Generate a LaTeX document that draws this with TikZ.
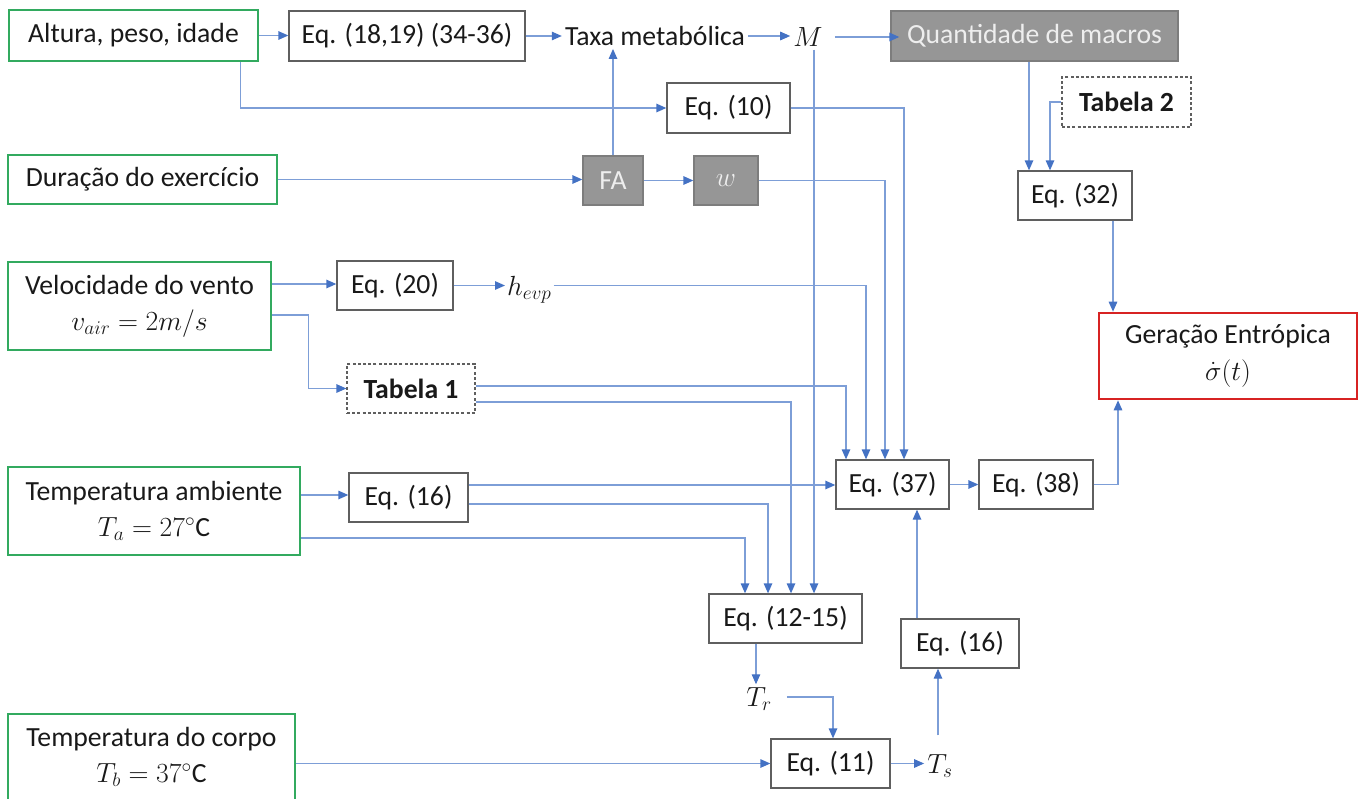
\RequirePackage{fix-cm}
\documentclass[tikz,border=0pt]{standalone}
\usepackage{fontspec}
\setmainfont{Carlito}
\usetikzlibrary{arrows.meta,calc}
\definecolor{lineblue}{RGB}{125,158,215}
\definecolor{tipblue}{RGB}{68,114,196}
\definecolor{boxgreen}{RGB}{50,170,95}
\definecolor{boxgray}{RGB}{150,150,150}
\definecolor{grayedge}{RGB}{125,125,125}
\definecolor{graytext}{RGB}{238,238,238}
\definecolor{boxred}{RGB}{215,35,35}
\definecolor{edgegray}{RGB}{95,95,95}
\tikzset{
  txt/.style={font=\fontsize{27.7}{36}\selectfont, text=black!90, align=center},
  inbox/.style={txt, draw=boxgreen, line width=2.8pt, inner sep=0pt},
  eqbox/.style={txt, draw=edgegray, line width=1.3pt, inner sep=0pt},
  graybox/.style={txt, fill=boxgray, draw=grayedge, line width=1.3pt, inner sep=0pt, text=graytext},
  tabbox/.style={txt, draw=edgegray, line width=1.2pt, dash pattern=on 3pt off 2.2pt, inner sep=0pt, font=\fontsize{27.7}{36}\selectfont\bfseries},
  outbox/.style={txt, draw=boxred, line width=2.6pt, inner sep=0pt},
  lbl/.style={txt, inner sep=3pt},
  conn/.style={draw=lineblue, line width=1.3pt, -{Triangle[length=10pt,width=8.5pt,color=tipblue]}},
}
\begin{document}
\begin{tikzpicture}[x=1pt,y=-1pt]
\useasboundingbox (0,0) rectangle (1363,798);
% inputs
\node[inbox, minimum width=249pt, minimum height=51pt] (alt) at (133.5,35.5) {Altura, peso, idade};
\node[inbox, minimum width=269pt, minimum height=49pt] (dur) at (142.5,179.5) {Duração do exercício};
\node[inbox, minimum width=263pt, minimum height=88pt] (vel) at (139.5,306) {Velocidade do vento\\$v_{air} \mathrel{=} 2m/s$};
\node[inbox, minimum width=292pt, minimum height=88pt] (tamb) at (154,511) {Temperatura ambiente\\$T_a = 27^{\circ}\mathrm{C}$};
\node[inbox, minimum width=287pt, minimum height=86pt] (tcorp) at (151.5,757) {Temperatura do corpo\\$T_b = 37^{\circ}\mathrm{C}$};
% equations
\node[eqbox, minimum width=236pt, minimum height=50pt] (eqA) at (407,36) {Eq. (18,19) (34-36)};
\node[eqbox, minimum width=123pt, minimum height=50pt] (eq10) at (728.5,108) {Eq. (10)};
\node[eqbox, minimum width=114pt, minimum height=49pt] (eq32) at (1075,195.5) {Eq. (32)};
\node[eqbox, minimum width=116pt, minimum height=49pt] (eq20) at (395,285.5) {Eq. (20)};
\node[eqbox, minimum width=119pt, minimum height=49pt] (eq16a) at (408.5,497.5) {Eq. (16)};
\node[eqbox, minimum width=113pt, minimum height=49pt] (eq37) at (892.5,484.5) {Eq. (37)};
\node[eqbox, minimum width=114pt, minimum height=49pt] (eq38) at (1036,484.5) {Eq. (38)};
\node[eqbox, minimum width=153pt, minimum height=49pt] (eq1215) at (785.5,618.5) {Eq. (12-15)};
\node[eqbox, minimum width=118pt, minimum height=49pt] (eq16b) at (960,643.5) {Eq. (16)};
\node[eqbox, minimum width=119pt, minimum height=49pt] (eq11) at (830.5,763.5) {Eq. (11)};
% gray boxes
\node[graybox, minimum width=287pt, minimum height=50pt] (qm) at (1034.5,36) {Quantidade de macros};
\node[graybox, minimum width=60pt, minimum height=49pt] (FA) at (613,180.5) {FA};
\node[graybox, minimum width=64pt, minimum height=49pt] (w) at (726,180.5) {$w$};
% tables
\node[tabbox, minimum width=129pt, minimum height=50pt] (tab2) at (1126.5,102) {Tabela 2};
\node[tabbox, minimum width=128pt, minimum height=49pt] (tab1) at (411,388.5) {Tabela 1};
% output
\node[outbox, minimum width=258pt, minimum height=86pt] (ger) at (1228,356) {Geração Entrópica\\[1pt]$\dot{\sigma}(t)$};
% labels
\node[lbl] (taxa) at (655,36) {Taxa metabólica};
\node[lbl] (M) at (808,37) {$M$};
\node[lbl, anchor=base west, inner sep=2pt] (hevp) at (505,295) {$h_{evp}$};
\node[lbl] (Tr) at (759,699) {$T_r$};
\node[lbl] (Ts) at (940,766) {$T_s$};
\coordinate (c814) at (814,0);
% connectors
\draw[conn] (alt.east) -- (alt.east -| eqA.west);
\draw[conn] (eqA.east) -- (eqA.east -| taxa.west);
\draw[conn] (taxa.east) -- (taxa.east -| M.west);
\draw[conn] ([xshift=9pt]M.east) -- ([xshift=9pt]M.east -| qm.west);
\draw[conn] ([xshift=-19pt]alt.south east) |- (eq10.west);
\draw[conn] (dur.east) -- (dur.east -| FA.west);
\draw[conn] (FA.north) -- (FA.north |- taxa.south);
\draw[conn] (FA.east) -- (FA.east -| w.west);
\draw[conn] (w.east) -| ([xshift=-7.5pt]eq37.north);
\draw[conn] (eq10.east) -| ([xshift=11.5pt]eq37.north);
\draw[conn] (hevp.east |- eq20.east) -| ([xshift=-26.5pt]eq37.north);
\draw[conn] ([yshift=2.5pt]tab1.east) -| ([xshift=-46.5pt]eq37.north);
\draw[conn] ([yshift=-13.5pt]tab1.east) -| ([xshift=5.5pt]eq1215.north);
\draw[conn] ([yshift=12.5pt]eq16a.east) -- ([yshift=12.5pt]eq16a.east -| eq37.west);
\draw[conn] ([yshift=-6.5pt]eq16a.east) -| ([xshift=-17.5pt]eq1215.north);
\draw[conn] ([yshift=16pt]tamb.east) -- ([yshift=16pt]tamb.east -| eq16a.west);
\draw[conn] ([yshift=-27pt]tamb.east) -| ([xshift=-40.5pt]eq1215.north);
\draw[conn] ([yshift=22pt]vel.east) -- ([yshift=22pt]vel.east -| eq20.west);
\draw[conn] ([yshift=-9pt]vel.east) -| ++(36,0) |- (tab1.west);
\draw[conn] (eq20.east) -- (eq20.east -| hevp.west);
\draw[conn] (M.south -| c814) -- (eq1215.north -| c814);
\draw[conn] ([xshift=-29.5pt]eq1215.south) -- ([xshift=-29.5pt]eq1215.south |- Tr.north);
\draw[conn] ([xshift=12pt,yshift=2pt]Tr.east) -| ([xshift=2.5pt]eq11.north);
\draw[conn] ([yshift=-6.5pt]tcorp.east) -- ([yshift=-6.5pt]tcorp.east -| eq11.west);
\draw[conn] (eq11.east) -- (eq11.east -| Ts.west);
\draw[conn] ([xshift=-2pt,yshift=16pt]Ts.north) -- ([xshift=-2pt]Ts.north |- eq16b.south);
\draw[conn] ([xshift=-43pt]eq16b.north) -- ([xshift=-43pt]eq16b.north |- eq37.south);
\draw[conn] (eq37.east) -- (eq37.east -| eq38.west);
\draw[conn] (eq38.east) -| ([xshift=-110pt]ger.south);
\draw[conn] ([xshift=-5.5pt]qm.south) -- ([xshift=-5.5pt]qm.south |- eq32.north);
\draw[conn] (tab2.west) -| ([xshift=-25pt]eq32.north);
\draw[conn] ([xshift=38pt]eq32.south) -- ([xshift=38pt]eq32.south |- ger.north);
\end{tikzpicture}
\end{document}
